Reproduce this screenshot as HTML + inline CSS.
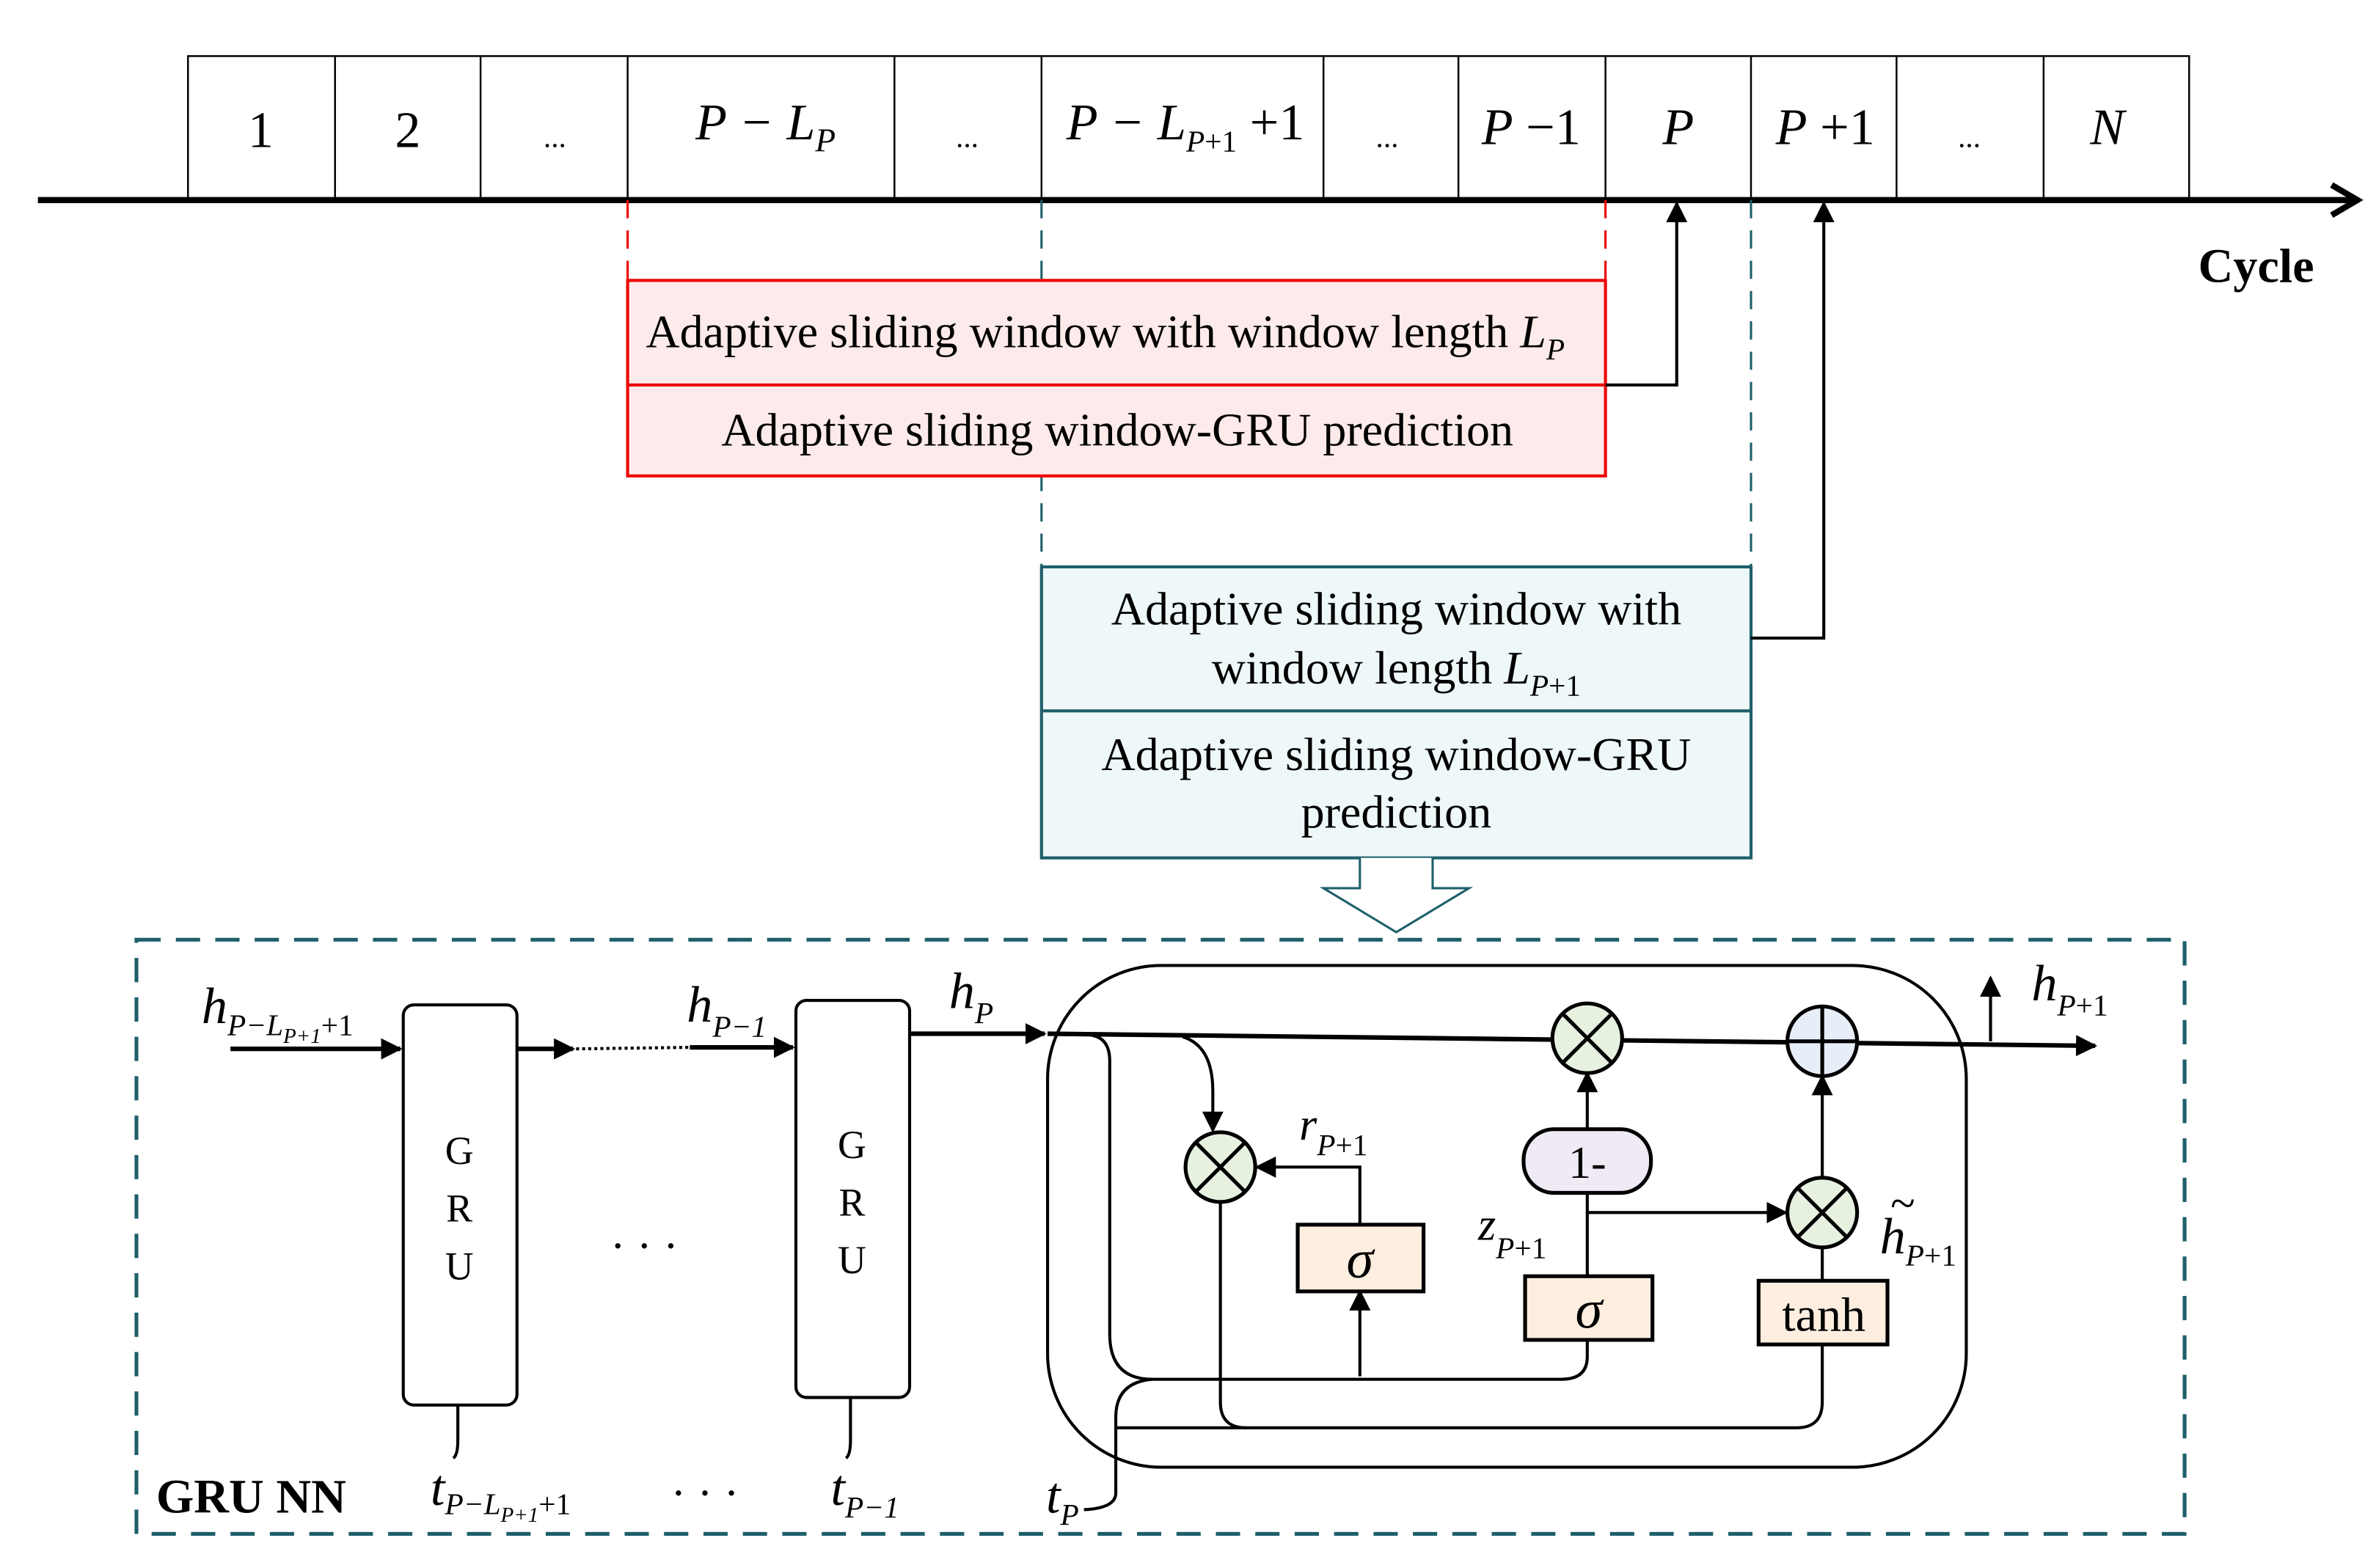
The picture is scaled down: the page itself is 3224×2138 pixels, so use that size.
<!DOCTYPE html>
<html><head><meta charset="utf-8"><style>html,body{margin:0;padding:0;background:#fff}svg{display:block}</style></head><body>
<svg width="3224" height="2138" viewBox="0 0 1560 1034.5" preserveAspectRatio="none" xmlns="http://www.w3.org/2000/svg" font-family="Liberation Serif, serif">
<defs>
<marker id="b" viewBox="0 0 10 10" refX="9" refY="5" markerWidth="14" markerHeight="14" orient="auto" markerUnits="userSpaceOnUse"><path d="M0,0L10,5L0,10z" fill="#000"/></marker>
</defs>
<g stroke="#000" stroke-width="1.2" fill="none">
<rect x="124" y="37" width="1320" height="95"/>
<path d="M221,37V132M317,37V132M414,37V132M590,37V132M687,37V132M873,37V132M962,37V132M1059,37V132M1155,37V132M1251,37V132M1348,37V132"/>
</g>
<g font-size="34" text-anchor="middle">
<text x="172" y="97">1</text><text x="269" y="97">2</text>
<text x="366" y="97" font-size="20">...</text>
<text x="505" y="92" font-style="italic">P − L<tspan font-size="22" dy="8">P</tspan></text>
<text x="638" y="97" font-size="20">...</text>
<text x="782" y="92"><tspan font-style="italic">P − L</tspan><tspan font-size="20" dy="8" font-style="italic">P</tspan><tspan font-size="20">+1</tspan><tspan dy="-8"> +1</tspan></text>
<text x="915" y="97" font-size="20">...</text>
<text x="1010" y="95"><tspan font-style="italic">P</tspan> −1</text>
<text x="1107" y="95" font-style="italic">P</text>
<text x="1204" y="95"><tspan font-style="italic">P</tspan> +1</text>
<text x="1299" y="97" font-size="20">...</text>
<text x="1390" y="95" font-style="italic">N</text>
</g>
<line x1="25" y1="132" x2="1552" y2="132" stroke="#000" stroke-width="4"/>
<path d="M1538,122L1555,132L1538,142" fill="none" stroke="#000" stroke-width="4"/>
<text x="1450" y="186" font-size="32" font-weight="bold">Cycle</text>
<path d="M687,132V374M1155,132V374" stroke="#1e5f6a" stroke-width="1.5" stroke-dasharray="12,8"/>
<path d="M414,132V185M1059,132V185" stroke="#e00" stroke-width="1.5" stroke-dasharray="12,8"/>
<rect x="414" y="185" width="645" height="129" fill="#fdeaea" stroke="#e00" stroke-width="2"/>
<line x1="414" y1="254" x2="1059" y2="254" stroke="#e00" stroke-width="2"/>
<text x="426" y="229" font-size="31">Adaptive sliding window with window length <tspan font-style="italic">L</tspan><tspan font-style="italic" font-size="20" dy="8">P</tspan></text>
<text x="737" y="294" font-size="31" text-anchor="middle">Adaptive sliding window-GRU prediction</text>
<path d="M1059,254H1106V134" fill="none" stroke="#000" stroke-width="2" marker-end="url(#b)"/>
<rect x="687" y="374" width="468" height="192" fill="#eef8f9" stroke="#1e5f6a" stroke-width="2"/>
<line x1="687" y1="469" x2="1155" y2="469" stroke="#1e5f6a" stroke-width="2"/>
<g font-size="31" text-anchor="middle">
<text x="921" y="412">Adaptive sliding window with</text>
<text x="921" y="451">window length   <tspan font-style="italic">L</tspan><tspan font-style="italic" font-size="20" dy="8">P</tspan><tspan font-size="20">+1</tspan></text>
<text x="921" y="508">Adaptive sliding window-GRU</text>
<text x="921" y="546">prediction</text>
</g>
<path d="M1155,421H1203V134" fill="none" stroke="#000" stroke-width="2" marker-end="url(#b)"/>
<path d="M897,566V586H873L921,615L969,586H945V566" fill="#fff" stroke="#1e5f6a" stroke-width="1.5"/>
<rect x="90" y="620" width="1351" height="392" fill="none" stroke="#1e5f6a" stroke-width="2.5" stroke-dasharray="16,10"/>
<text x="103" y="998" font-size="32" font-weight="bold">GRU NN</text>
<g stroke="#000" stroke-width="2" fill="none">
<rect x="266" y="663" width="75" height="264" rx="7"/>
<rect x="525" y="660" width="75" height="262" rx="7"/>
<line x1="152" y1="692" x2="264" y2="692" stroke-width="3" marker-end="url(#b)"/>
<line x1="341" y1="692" x2="378" y2="692" stroke-width="3" marker-end="url(#b)"/>
<line x1="380" y1="692" x2="455" y2="691" stroke-width="2" stroke-dasharray="2,2"/>
<line x1="455" y1="691" x2="523" y2="691" stroke-width="3" marker-end="url(#b)"/>
<path d="M302,927V950Q302,960 299,962M561,922V950Q561,960 558,962"/>
<rect x="691" y="637" width="606" height="331" rx="75"/>
<line x1="600" y1="682" x2="689" y2="682" stroke-width="3" marker-end="url(#b)"/>
<line x1="691" y1="682" x2="1382" y2="690" stroke-width="3" marker-end="url(#b)"/>
<path d="M1313,687V645" marker-end="url(#b)"/>
<path d="M720,683Q732,685 732,700V880Q732,910 760,910H1030Q1047,910 1047,895V884"/>
<path d="M780,684Q800,690 800,720V746" marker-end="url(#b)"/>
<path d="M805,793V925Q805,942 822,942"/>
<path d="M736,942H1185Q1202,942 1202,925V887"/>
<path d="M897,908V852" marker-end="url(#b)"/>
<path d="M897,808V770H829" marker-end="url(#b)"/>
<path d="M1047,842V745M1047,745V708" marker-end="url(#b)"/>
<path d="M1047,800H1178" marker-end="url(#b)"/>
<path d="M1202,845V823M1202,777V710" marker-end="url(#b)"/>
<path d="M760,910Q736,912 736,935V985Q736,995 715,996"/>
</g>
<g stroke="#000" stroke-width="2.5">
<ellipse cx="805" cy="770" rx="23" ry="23" fill="#e7f1e0"/>
<ellipse cx="1047" cy="685" rx="23" ry="23" fill="#e7f1e0"/>
<ellipse cx="1202" cy="800" rx="23" ry="23" fill="#e7f1e0"/>
<ellipse cx="1202" cy="687" rx="23" ry="23" fill="#e8eef8"/>
<path d="M789,754L821,786M821,754L789,786M1031,669L1063,701M1063,669L1031,701M1186,784L1218,816M1218,784L1186,816M1179,687H1225M1202,664V710" fill="none"/>
<rect x="1005" y="745" width="84" height="42" rx="20" fill="#efeaf3"/>
<rect x="856" y="808" width="83" height="44" fill="#fdeee0"/>
<rect x="1006" y="842" width="84" height="42" fill="#fdeee0"/>
<rect x="1160" y="845" width="85" height="42" fill="#fdeee0"/>
</g>
<g font-size="30" text-anchor="middle">
<text x="1047" y="777">1-</text>
<text x="897" y="843" font-style="italic" font-size="36">σ</text>
<text x="1048" y="876" font-style="italic" font-size="36">σ</text>
<text x="1203" y="878" font-size="32">tanh</text>
<text x="303" y="768" font-size="26">G</text><text x="303" y="806" font-size="26">R</text><text x="303" y="844" font-size="26">U</text>
<text x="562" y="764" font-size="26">G</text><text x="562" y="802" font-size="26">R</text><text x="562" y="840" font-size="26">U</text>
<text x="425" y="832">· · ·</text><text x="465" y="995">· · ·</text>
</g>
<g font-style="italic" font-size="34">
<text x="133" y="675">h<tspan font-size="20" dy="8">P−L</tspan><tspan font-size="14" dy="5">P+1</tspan><tspan font-size="20" dy="-5" font-style="normal">+1</tspan></text>
<text x="453" y="674">h<tspan font-size="20" dy="10">P−1</tspan></text>
<text x="626" y="665">h<tspan font-size="20" dy="10">P</tspan></text>
<text x="1340" y="660">h<tspan font-size="20" dy="10">P</tspan><tspan font-size="20" font-style="normal">+1</tspan></text>
<text x="857" y="752" font-size="30">r<tspan font-size="20" dy="10" font-style="italic">P</tspan><tspan font-size="20" font-style="normal">+1</tspan></text>
<text x="975" y="818" font-size="30">z<tspan font-size="20" dy="12">P</tspan><tspan font-size="20" font-style="normal">+1</tspan></text>
<text x="1240" y="827">h<tspan font-size="20" dy="8">P</tspan><tspan font-size="20" font-style="normal">+1</tspan></text>
<text x="1247" y="804" font-size="30" font-style="normal">~</text>
<text x="284" y="993">t<tspan font-size="20" dy="6">P−L</tspan><tspan font-size="14" dy="5">P+1</tspan><tspan font-size="20" dy="-5" font-style="normal">+1</tspan></text>
<text x="548" y="993">t<tspan font-size="20" dy="8">P−1</tspan></text>
<text x="690" y="998">t<tspan font-size="20" dy="8">P</tspan></text>
</g>
</svg>
</body></html>
